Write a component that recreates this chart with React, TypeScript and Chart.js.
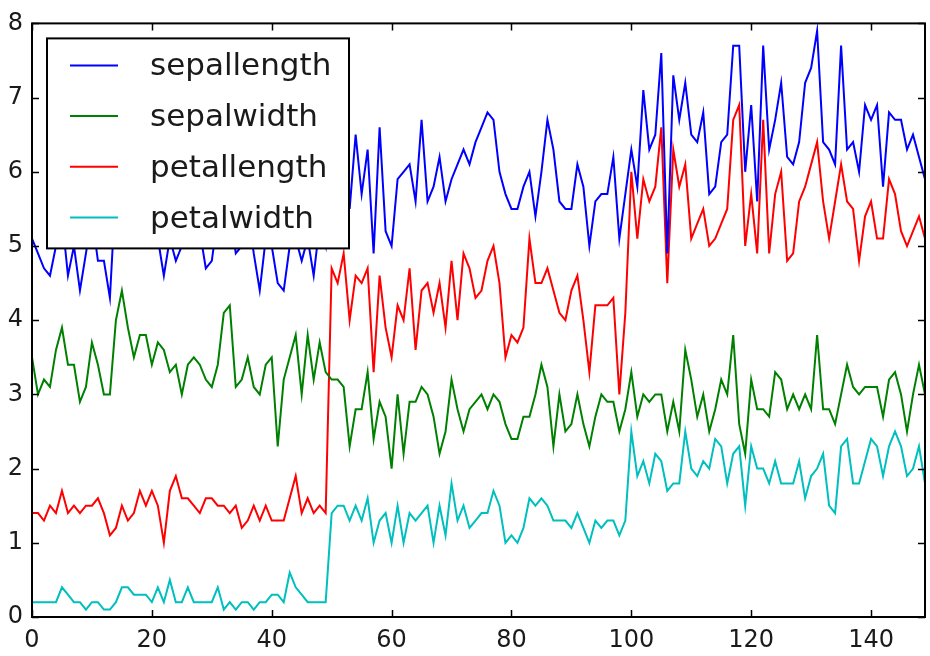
import React, { useEffect, useRef } from "react";
import { Chart, registerables } from "chart.js";

Chart.register(...registerables);

// Iris measurements, one row per sample (150 samples)
const sepallength = [
  5.1, 4.9, 4.7, 4.6, 5.0, 5.4, 4.6, 5.0, 4.4, 4.9, 5.4, 4.8, 4.8, 4.3, 5.8, 5.7, 5.4, 5.1, 5.7, 5.1,
  5.4, 5.1, 4.6, 5.1, 4.8, 5.0, 5.0, 5.2, 5.2, 4.7, 4.8, 5.4, 5.2, 5.5, 4.9, 5.0, 5.5, 4.9, 4.4, 5.1,
  5.0, 4.5, 4.4, 5.0, 5.1, 4.8, 5.1, 4.6, 5.3, 5.0, 7.0, 6.4, 6.9, 5.5, 6.5, 5.7, 6.3, 4.9, 6.6, 5.2,
  5.0, 5.9, 6.0, 6.1, 5.6, 6.7, 5.6, 5.8, 6.2, 5.6, 5.9, 6.1, 6.3, 6.1, 6.4, 6.6, 6.8, 6.7, 6.0, 5.7,
  5.5, 5.5, 5.8, 6.0, 5.4, 6.0, 6.7, 6.3, 5.6, 5.5, 5.5, 6.1, 5.8, 5.0, 5.6, 5.7, 5.7, 6.2, 5.1, 5.7,
  6.3, 5.8, 7.1, 6.3, 6.5, 7.6, 4.9, 7.3, 6.7, 7.2, 6.5, 6.4, 6.8, 5.7, 5.8, 6.4, 6.5, 7.7, 7.7, 6.0,
  6.9, 5.6, 7.7, 6.3, 6.7, 7.2, 6.2, 6.1, 6.4, 7.2, 7.4, 7.9, 6.4, 6.3, 6.1, 7.7, 6.3, 6.4, 6.0, 6.9,
  6.7, 6.9, 5.8, 6.8, 6.7, 6.7, 6.3, 6.5, 6.2, 5.9,
];
const sepalwidth = [
  3.5, 3.0, 3.2, 3.1, 3.6, 3.9, 3.4, 3.4, 2.9, 3.1, 3.7, 3.4, 3.0, 3.0, 4.0, 4.4, 3.9, 3.5, 3.8, 3.8,
  3.4, 3.7, 3.6, 3.3, 3.4, 3.0, 3.4, 3.5, 3.4, 3.2, 3.1, 3.4, 4.1, 4.2, 3.1, 3.2, 3.5, 3.1, 3.0, 3.4,
  3.5, 2.3, 3.2, 3.5, 3.8, 3.0, 3.8, 3.2, 3.7, 3.3, 3.2, 3.2, 3.1, 2.3, 2.8, 2.8, 3.3, 2.4, 2.9, 2.7,
  2.0, 3.0, 2.2, 2.9, 2.9, 3.1, 3.0, 2.7, 2.2, 2.5, 3.2, 2.8, 2.5, 2.8, 2.9, 3.0, 2.8, 3.0, 2.9, 2.6,
  2.4, 2.4, 2.7, 2.7, 3.0, 3.4, 3.1, 2.3, 3.0, 2.5, 2.6, 3.0, 2.6, 2.3, 2.7, 3.0, 2.9, 2.9, 2.5, 2.8,
  3.3, 2.7, 3.0, 2.9, 3.0, 3.0, 2.5, 2.9, 2.5, 3.6, 3.2, 2.7, 3.0, 2.5, 2.8, 3.2, 3.0, 3.8, 2.6, 2.2,
  3.2, 2.8, 2.8, 2.7, 3.3, 3.2, 2.8, 3.0, 2.8, 3.0, 2.8, 3.8, 2.8, 2.8, 2.6, 3.0, 3.4, 3.1, 3.0, 3.1,
  3.1, 3.1, 2.7, 3.2, 3.3, 3.0, 2.5, 3.0, 3.4, 3.0,
];
const petallength = [
  1.4, 1.4, 1.3, 1.5, 1.4, 1.7, 1.4, 1.5, 1.4, 1.5, 1.5, 1.6, 1.4, 1.1, 1.2, 1.5, 1.3, 1.4, 1.7, 1.5,
  1.7, 1.5, 1.0, 1.7, 1.9, 1.6, 1.6, 1.5, 1.4, 1.6, 1.6, 1.5, 1.5, 1.4, 1.5, 1.2, 1.3, 1.5, 1.3, 1.5,
  1.3, 1.3, 1.3, 1.6, 1.9, 1.4, 1.6, 1.4, 1.5, 1.4, 4.7, 4.5, 4.9, 4.0, 4.6, 4.5, 4.7, 3.3, 4.6, 3.9,
  3.5, 4.2, 4.0, 4.7, 3.6, 4.4, 4.5, 4.1, 4.5, 3.9, 4.8, 4.0, 4.9, 4.7, 4.3, 4.4, 4.8, 5.0, 4.5, 3.5,
  3.8, 3.7, 3.9, 5.1, 4.5, 4.5, 4.7, 4.4, 4.1, 4.0, 4.4, 4.6, 4.0, 3.3, 4.2, 4.2, 4.2, 4.3, 3.0, 4.1,
  6.0, 5.1, 5.9, 5.6, 5.8, 6.6, 4.5, 6.3, 5.8, 6.1, 5.1, 5.3, 5.5, 5.0, 5.1, 5.3, 5.5, 6.7, 6.9, 5.0,
  5.7, 4.9, 6.7, 4.9, 5.7, 6.0, 4.8, 4.9, 5.6, 5.8, 6.1, 6.4, 5.6, 5.1, 5.6, 6.1, 5.6, 5.5, 4.8, 5.4,
  5.6, 5.1, 5.1, 5.9, 5.7, 5.2, 5.0, 5.2, 5.4, 5.1,
];
const petalwidth = [
  0.2, 0.2, 0.2, 0.2, 0.2, 0.4, 0.3, 0.2, 0.2, 0.1, 0.2, 0.2, 0.1, 0.1, 0.2, 0.4, 0.4, 0.3, 0.3, 0.3,
  0.2, 0.4, 0.2, 0.5, 0.2, 0.2, 0.4, 0.2, 0.2, 0.2, 0.2, 0.4, 0.1, 0.2, 0.1, 0.2, 0.2, 0.1, 0.2, 0.2,
  0.3, 0.3, 0.2, 0.6, 0.4, 0.3, 0.2, 0.2, 0.2, 0.2, 1.4, 1.5, 1.5, 1.3, 1.5, 1.3, 1.6, 1.0, 1.3, 1.4,
  1.0, 1.5, 1.0, 1.4, 1.3, 1.4, 1.5, 1.0, 1.5, 1.1, 1.8, 1.3, 1.5, 1.2, 1.3, 1.4, 1.4, 1.7, 1.5, 1.0,
  1.1, 1.0, 1.2, 1.6, 1.5, 1.6, 1.5, 1.3, 1.3, 1.3, 1.2, 1.4, 1.2, 1.0, 1.3, 1.2, 1.3, 1.3, 1.1, 1.3,
  2.5, 1.9, 2.1, 1.8, 2.2, 2.1, 1.7, 1.8, 1.8, 2.5, 2.0, 1.9, 2.1, 2.0, 2.4, 2.3, 1.8, 2.2, 2.3, 1.5,
  2.3, 2.0, 2.0, 1.8, 2.1, 1.8, 1.8, 1.8, 2.1, 1.6, 1.9, 2.0, 2.2, 1.5, 1.4, 2.3, 2.4, 1.8, 1.8, 2.1,
  2.4, 2.3, 1.9, 2.3, 2.5, 2.3, 1.9, 2.0, 2.3, 1.8,
];

const seriesNames = ["sepallength", "sepalwidth", "petallength", "petalwidth"];
const seriesValues = [sepallength, sepalwidth, petallength, petalwidth];
const seriesColors = ["#0000ff", "#008000", "#ff0000", "#00bfbf"];

const xTickStep = 20;
const yTickStep = 1;

const FONT = "'DejaVu Sans', 'Liberation Sans', sans-serif";

// Box around the plot area with short inward ticks on all four sides
const framePlugin = {
  id: "frame",
  afterDatasetsDraw(chart: any) {
    const { ctx, chartArea: a, scales } = chart;
    const tick = 7;
    ctx.save();
    ctx.strokeStyle = "#000";
    ctx.lineWidth = 1.5;
    ctx.beginPath();
    for (const t of scales.x.ticks) {
      const px = Math.round(scales.x.getPixelForValue(t.value)) + 0.5;
      ctx.moveTo(px, a.bottom);
      ctx.lineTo(px, a.bottom - tick);
      ctx.moveTo(px, a.top);
      ctx.lineTo(px, a.top + tick);
    }
    for (const t of scales.y.ticks) {
      const py = Math.round(scales.y.getPixelForValue(t.value)) + 0.5;
      ctx.moveTo(a.left, py);
      ctx.lineTo(a.left + tick, py);
      ctx.moveTo(a.right, py);
      ctx.lineTo(a.right - tick, py);
    }
    ctx.stroke();
    ctx.lineWidth = 2;
    ctx.strokeRect(a.left, a.top, a.right - a.left, a.bottom - a.top);
    ctx.restore();
  },
};

// Boxed legend in the upper-left corner of the plot
const boxLegendPlugin = {
  id: "boxLegend",
  afterDraw(chart: any) {
    const { ctx, chartArea: a } = chart;
    const left = a.left + 15;
    const top = a.top + 15;
    const width = 302;
    const height = 210;
    const rowGap = 50.7;
    const firstRow = top + 27;
    ctx.save();
    ctx.fillStyle = "#fff";
    ctx.fillRect(left, top, width, height);
    ctx.strokeStyle = "#000";
    ctx.lineWidth = 2;
    ctx.strokeRect(left, top, width, height);
    ctx.font = `31px ${FONT}`;
    ctx.textBaseline = "middle";
    ctx.textAlign = "left";
    chart.data.datasets.forEach((ds: any, i: number) => {
      const y = firstRow + i * rowGap;
      ctx.strokeStyle = ds.borderColor;
      ctx.lineWidth = 2;
      ctx.beginPath();
      ctx.moveTo(left + 23, y);
      ctx.lineTo(left + 71, y);
      ctx.stroke();
      ctx.fillStyle = "#1a1a1a";
      ctx.fillText(ds.label, left + 103, y + 2);
    });
    ctx.restore();
  },
};

// Keep only the round-number ticks
const keepSteps = (step: number) => (s: any) => {
  s.ticks = s.ticks.filter((t: any) => Math.abs(t.value / step - Math.round(t.value / step)) < 1e-9);
};

export default function App() {
  const canvasRef = useRef<HTMLCanvasElement | null>(null);

  useEffect(() => {
    document.body.style.margin = "0";
    const canvas = canvasRef.current;
    if (!canvas) return;
    const chart = new Chart(canvas, {
      type: "line",
      data: {
        datasets: seriesNames.map((name, k) => ({
          label: name,
          data: seriesValues[k].map((v, i) => ({ x: i, y: v })),
          borderColor: seriesColors[k],
          backgroundColor: seriesColors[k],
          borderWidth: 2,
          pointRadius: 0,
          tension: 0,
          fill: false,
        })),
      },
      options: {
        responsive: false,
        animation: false,
        events: [],
        layout: { padding: { left: 0, top: 23, right: 5, bottom: 0 } },
        plugins: {
          legend: { display: false },
          tooltip: { enabled: false },
        },
        scales: {
          x: {
            type: "linear",
            min: 0,
            max: 149,
            grid: { display: false, drawTicks: false },
            border: { display: false },
            afterBuildTicks: keepSteps(xTickStep),
            afterFit: (s: any) => {
              s.height = 39;
            },
            ticks: {
              stepSize: xTickStep,
              includeBounds: false,
              padding: 9,
              color: "#1a1a1a",
              maxRotation: 0,
              autoSkip: false,
              font: { family: FONT, size: 24 },
            },
          },
          y: {
            type: "linear",
            min: 0,
            max: 8,
            grid: { display: false, drawTicks: false },
            border: { display: false },
            afterBuildTicks: keepSteps(yTickStep),
            afterFit: (s: any) => {
              s.width = 32;
            },
            ticks: {
              stepSize: yTickStep,
              padding: 9,
              color: "#1a1a1a",
              font: { family: FONT, size: 24 },
            },
          },
        },
      },
      plugins: [framePlugin, boxLegendPlugin],
    });
    return () => chart.destroy();
  }, []);

  return (
    <div style={{ position: "fixed", left: 0, top: 0, width: 930, height: 656, background: "#fff" }}>
      <canvas ref={canvasRef} width={930} height={656} style={{ display: "block" }} />
    </div>
  );
}
